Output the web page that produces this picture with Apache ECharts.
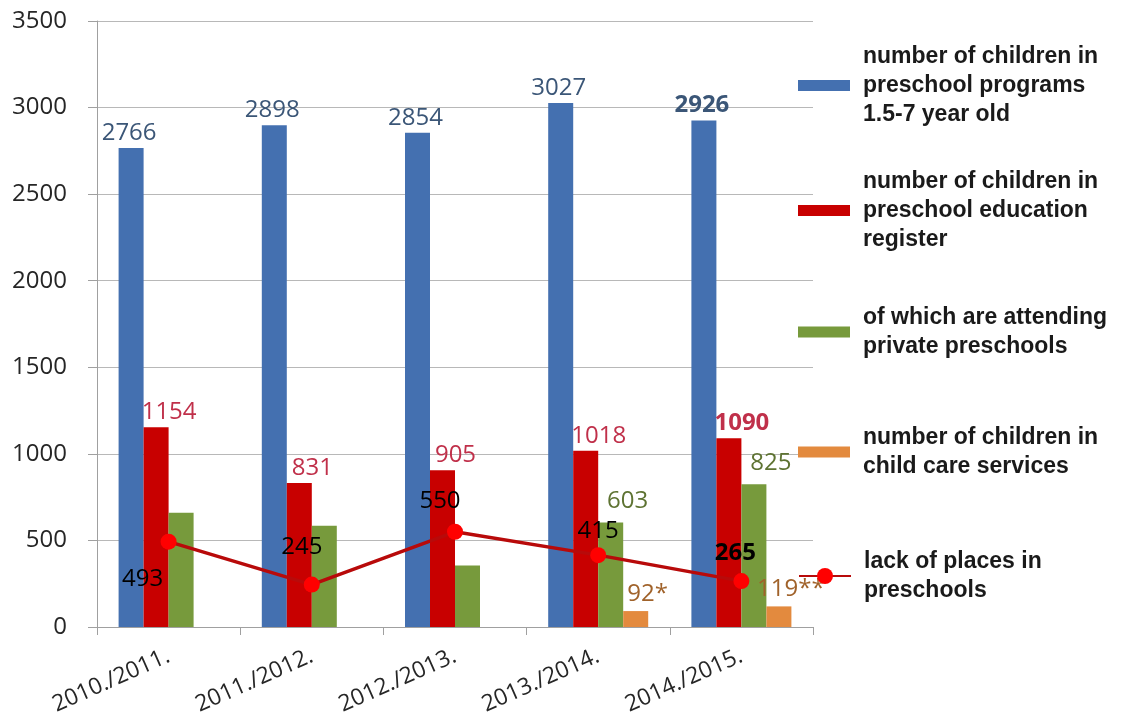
<!DOCTYPE html>
<html>
<head>
<meta charset="utf-8">
<style>html,body{margin:0;padding:0;background:#fff;}#c{width:1122px;height:724px;}</style>
<script src="https://cdn.jsdelivr.net/npm/echarts@6/dist/echarts.min.js"></script>
</head>
<body>
<div id="c"></div>
<script>
const categories = ['2010./2011.', '2011./2012.', '2012./2013.', '2013./2014.', '2014./2015.'];
const programs = [2766, 2898, 2854, 3027, 2926];
const register = [1154, 831, 905, 1018, 1090];
const privateSchools = [660, 585, 355, 603, 825];
const privateLabels = ['', '', '', '603', '825'];
const childCare = [null, null, null, 92, 119];
const childCareLabels = ['', '', '', '92*', '119**'];
const lackOfPlaces = [493, 245, 550, 415, 265];
const yTicks = { min: 0, max: 3500, interval: 500 };

const names = [
  'number of children in preschool programs 1.5-7 year old',
  'number of children in preschool education register',
  'of which are attending private preschools',
  'number of children in child care services',
  'lack of places in preschools'
];
const legendText = [
  'number of children in\npreschool programs\n1.5-7 year old',
  'number of children in\npreschool education\nregister',
  'of which are attending\nprivate preschools',
  'number of children in\nchild care services',
  'lack of places in\npreschools'
];

const FONT = 'Open Sans';
const chart = echarts.init(document.getElementById('c'), null, { renderer: 'canvas' });

const lineLabelCfg = [
  { position: 'bottom', offset: [-26, 13] },
  { position: 'top', offset: [-10, -12] },
  { position: 'top', offset: [-15, -6] },
  { position: 'top', offset: [0, 1] },
  { position: 'top', offset: [-6, -3], fontWeight: 'bold' }
];

const legendTops = [37, 162, 298, 418, 542];
const legends = names.map((n, i) => ({
  orient: 'vertical',
  left: 793,
  top: legendTops[i],
  data: [{ name: n, icon: i === 4 ? undefined : 'rect' }],
  itemWidth: 52,
  itemHeight: i === 4 ? 20 : 11,
  selectedMode: false,
  formatter: () => legendText[i],
  textStyle: {
    fontFamily: 'Liberation Sans',
    fontWeight: 'bold',
    fontSize: 23,
    lineHeight: 29,
    color: '#1a1a1a',
    padding: [0, 0, 0, 8]
  }
}));

const barLabelBase = { show: true, position: 'top', fontFamily: FONT, fontSize: 24, distance: 3 };
const boldLast = (arr) => arr.map((v, i) => i === arr.length - 1 ? { value: v, label: { fontWeight: 'bold' } } : v);

chart.setOption({
  animation: false,
  backgroundColor: '#ffffff',
  legend: legends,
  grid: { left: 97, right: 309, top: 21, bottom: 97, containLabel: false },
  xAxis: {
    type: 'category',
    data: categories,
    boundaryGap: true,
    axisLine: { lineStyle: { color: '#a0a0a0', width: 1 } },
    axisTick: { show: true, length: 8, lineStyle: { color: '#a0a0a0' } },
    axisLabel: { rotate: 24, fontFamily: FONT, fontSize: 23, color: '#262626', margin: 28, interval: 0 }
  },
  yAxis: {
    type: 'value',
    min: yTicks.min, max: yTicks.max, interval: yTicks.interval,
    axisLine: { show: true, lineStyle: { color: '#a0a0a0', width: 1 } },
    axisTick: { show: true, length: 9, lineStyle: { color: '#a0a0a0' } },
    splitLine: { lineStyle: { color: '#b8b8b8', width: 1 } },
    axisLabel: { fontFamily: FONT, fontSize: 24, color: '#262626', margin: 30,
      formatter: v => String(v) }
  },
  series: [
    {
      name: names[0], type: 'bar', data: boldLast(programs), barWidth: 25, barGap: '0%',
      itemStyle: { color: '#4470B0' },
      label: Object.assign({}, barLabelBase, { color: '#3B5677', offset: [-2, 0] })
    },
    {
      name: names[1], type: 'bar', data: boldLast(register), barWidth: 25, barGap: '0%',
      itemStyle: { color: '#C80000' },
      label: Object.assign({}, barLabelBase, { color: '#C0304A', offset: [13, 0] })
    },
    {
      name: names[2], type: 'bar', data: privateSchools, barWidth: 25, barGap: '0%',
      itemStyle: { color: '#779A3C' },
      label: Object.assign({}, barLabelBase, { color: '#5E7332', offset: [17, -6],
        formatter: p => privateLabels[p.dataIndex] })
    },
    {
      name: names[3], type: 'bar', data: childCare, barWidth: 25, barGap: '0%',
      itemStyle: { color: '#E38A3E' },
      label: Object.assign({}, barLabelBase, { color: '#A0622A', offset: [12, -2],
        formatter: p => childCareLabels[p.dataIndex] })
    },
    {
      name: names[4], type: 'line', z: 5,
      data: lackOfPlaces.map((v, i) => ({ value: v, label: lineLabelCfg[i] })),
      symbol: 'circle', symbolSize: 16,
      lineStyle: { color: '#B80A0A', width: 3.5 },
      itemStyle: { color: '#FF0000', borderWidth: 0 },
      label: { show: true, fontFamily: FONT, fontSize: 24, color: '#000', distance: 5 }
    }
  ]
});
</script>
</body>
</html>
